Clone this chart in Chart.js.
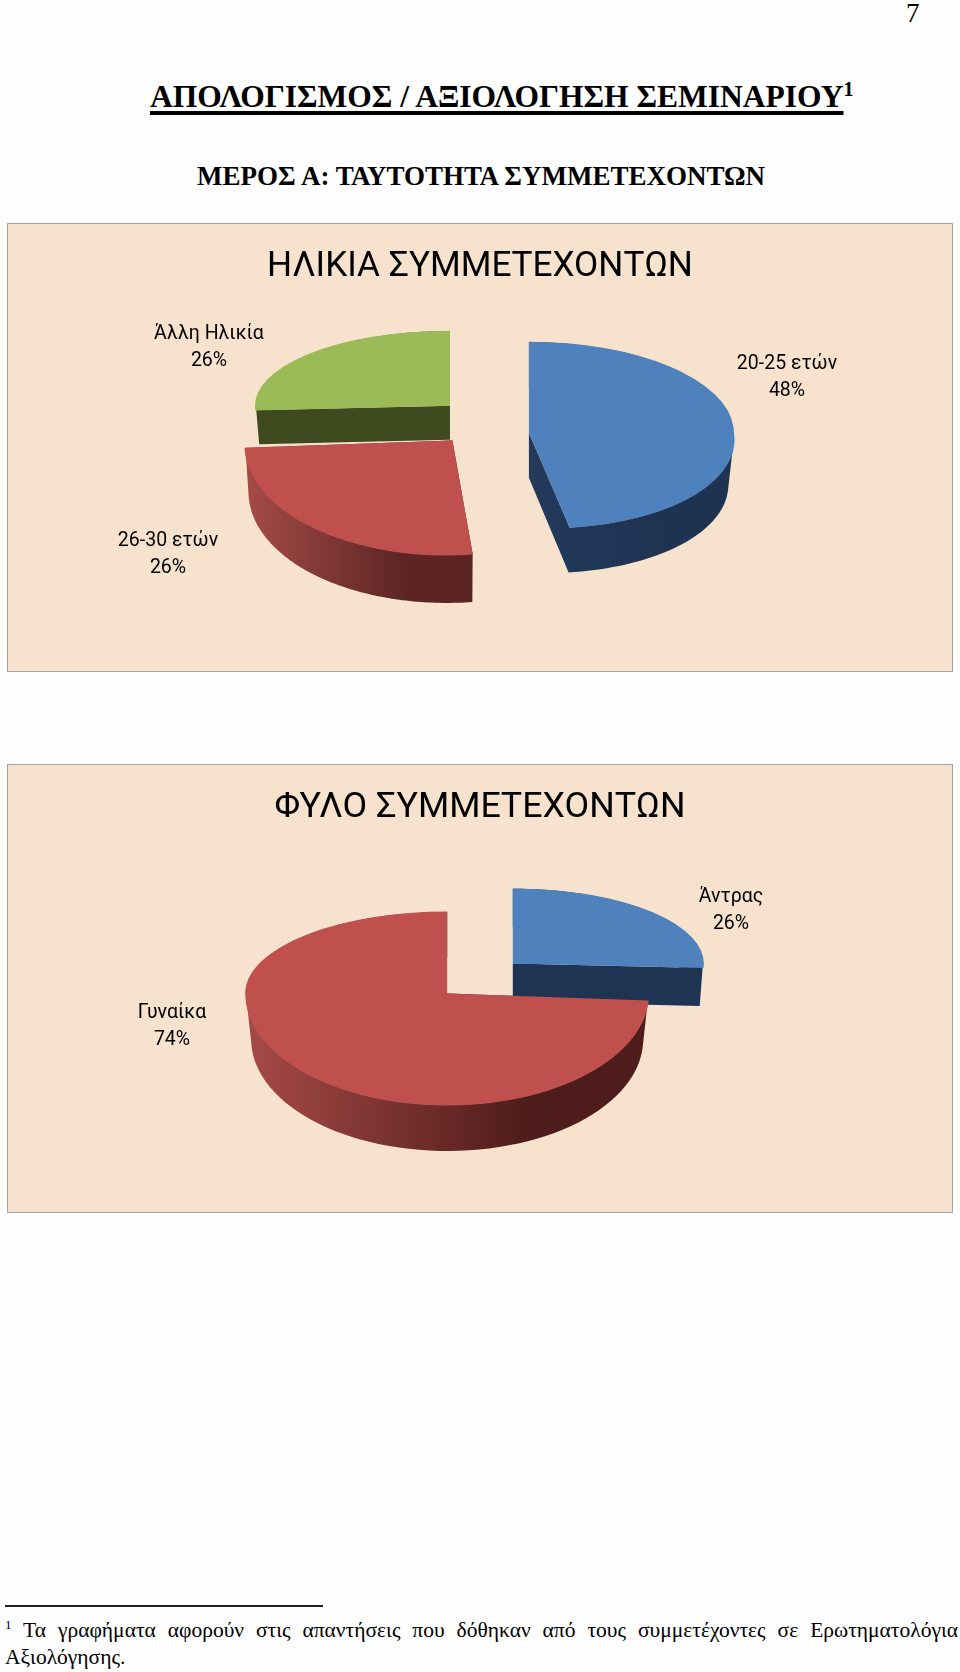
<!DOCTYPE html>
<html lang="el">
<head>
<meta charset="utf-8">
<title>Απολογισμός</title>
<script src="https://cdn.jsdelivr.net/npm/chart.js@4"></script>
<style>
    html, body { margin: 0; padding: 0; background: #fefefe; }
    body { position: relative; width: 960px; height: 1672px; overflow: hidden; font-family: "Liberation Serif", serif; color: #000; }
    .abs { position: absolute; white-space: nowrap; }
    #pageNo { left: 906px; top: -2px; font-size: 27px; }
    #heading { left: 150px; top: 79px; font-size: 31.5px; font-weight: bold; }
    #heading span { text-decoration: underline; text-decoration-thickness: 3.5px; text-underline-offset: 4px; }
    #heading sup { font-size: 20px; line-height: 0; }
    #subheading { left: 197px; top: 161px; font-size: 27px; font-weight: bold; }
    .box { position: absolute; left: 7px; width: 944px; height: 447px; border: 1.5px solid #a5a3a0; background: #f7e3cd; }
    .box canvas { display: block; }
    #rule { position: absolute; left: 5px; top: 1605px; width: 318px; height: 2px; background: #222; }
    #note1 { position: absolute; left: 5px; width: 953px; top: 1618px; font-size: 21.5px; text-align: justify; text-align-last: justify; white-space: nowrap; }
    #note1 sup { font-size: 13px; line-height: 0; }
    #note2 { left: 5px; top: 1645px; font-size: 21.5px; }
</style>
</head>
<body>
<div class="abs" id="pageNo">7</div>
<div class="abs" id="heading"><span>ΑΠΟΛΟΓΙΣΜΟΣ / ΑΞΙΟΛΟΓΗΣΗ ΣΕΜΙΝΑΡΙΟΥ</span><sup>1</sup></div>
<div class="abs" id="subheading">ΜΕΡΟΣ Α: ΤΑΥΤΟΤΗΤΑ ΣΥΜΜΕΤΕΧΟΝΤΩΝ</div>
<div class="box" style="top:223px"><canvas id="ageChart" width="944" height="447"></canvas></div>
<div class="box" style="top:764px"><canvas id="genderChart" width="944" height="447"></canvas></div>
<div id="rule"></div>
<div id="note1"><sup>1</sup> Τα γραφήματα αφορούν στις απαντήσεις που δόθηκαν από τους συμμετέχοντες σε Ερωτηματολόγια</div>
<div class="abs" id="note2">Αξιολόγησης.</div>

<script>
const ageTitle = 'ΗΛΙΚΙΑ ΣΥΜΜΕΤΕΧΟΝΤΩΝ';
const ageLabels = ['20-25 ετών', '26-30 ετών', 'Άλλη Ηλικία'];
const ageValues = [48, 26, 26];

const genderTitle = 'ΦΥΛΟ ΣΥΜΜΕΤΕΧΟΝΤΩΝ';
const genderLabels = ['Άντρας', 'Γυναίκα'];
const genderValues = [26, 74];

const BLUE = '#4f81bd';
const RED = '#bf504d';
const GREEN = '#9bbb59';
const LABEL_FONT = '19.5px Roboto';
const PIE_RADIUS = 200;

// fake perspective: each slice gets its own squash, above and below its tip
const agePie = {
    explode: 48, squash: 0.47, padBottom: 109, titleSize: 35.2,
    colors: [BLUE, RED, GREEN],
    views: [
        { sx: 1.025, up: 0.455, down: 0.48, skew: 0.16, shrink: 0.975, dx: 1, dy: 5, depth: 45, wall: ['#233a5c', '#1e3251'] },
        { sx: 1.04, up: 0.5, down: 0.575, skew: -0.05, shrink: 0.985, dx: 3, dy: -6, depth: 48, wall: ['#a64b48', '#5c2523'] },
        { sx: 0.975, up: 0.375, down: 0.375, skew: 0, shrink: 0.985, dx: 5, dy: -8, depth: 34, wall: ['#3f4a1f', '#3f4a1f'] }
    ],
    drawOrder: [2, 1, 0],
    labelBoxes: [[779, 154], [160, 331], [201, 124]]
};
const genderPie = {
    explode: 45, squash: 0.49, padBottom: 93, titleSize: 35.8,
    colors: [BLUE, RED],
    views: [
        { sx: 0.955, up: 0.375, down: 0.375, skew: 0, shrink: 0.985, dx: 0, dy: 0, depth: 38, wall: ['#1f3353', '#1f3353'] },
        { sx: 1.01, up: 0.41, down: 0.56, skew: 0, shrink: 0.975, dx: 0, dy: 0, depth: 46, wall: ['#a64a47', '#4e1c1a'] }
    ],
    drawOrder: [0, 1],
    labelBoxes: [[723, 146], [164, 262]]
};

function sliceGeometry(arc, view, cfg) {
    const mid = (arc.startAngle + arc.endAngle) / 2;
    const tipX = arc.x + Math.cos(mid) * cfg.explode + view.dx;
    const tipY = arc.y + Math.sin(mid) * cfg.explode * cfg.squash + view.dy;
    const rimPoint = (angle, r) => {
        const s = Math.sin(angle);
        const drop = s * r * (s < 0 ? view.up : view.down);
        return [tipX + Math.cos(angle) * r * view.sx + (s > 0 ? view.skew * drop : 0), tipY + drop];
    };
    return { tipX, tipY, rimPoint };
}

function drawWall(ctx, arc, view, geo) {
    const top = [[geo.tipX, geo.tipY]];
    for (let i = 0; i <= 90; i++) {
        top.push(geo.rimPoint(arc.startAngle + (arc.endAngle - arc.startAngle) * i / 90, arc.outerRadius - 1));
    }
    top.push([geo.tipX, geo.tipY]);
    const xs = top.map(p => p[0]);
    const grad = ctx.createLinearGradient(Math.min(...xs), 0, Math.max(...xs), 0);
    grad.addColorStop(0, view.wall[0]);
    grad.addColorStop(0.7, view.wall[1]);
    grad.addColorStop(1, view.wall[1]);
    ctx.fillStyle = grad;
    const lower = p => [geo.tipX + (p[0] - geo.tipX) * view.shrink, p[1] + view.depth];
    // one path with every quad wound the same way, so no seams show in the fill
    ctx.beginPath();
    for (let i = 0; i < top.length - 1; i++) {
        let quad = [top[i], top[i + 1], lower(top[i + 1]), lower(top[i])];
        let area = 0;
        quad.forEach((p, j) => {
            const q = quad[(j + 1) % 4];
            area += p[0] * q[1] - q[0] * p[1];
        });
        if (area < 0) quad = quad.reverse();
        ctx.moveTo(quad[0][0], quad[0][1]);
        quad.slice(1).forEach(p => ctx.lineTo(p[0], p[1]));
        ctx.closePath();
    }
    ctx.fill('nonzero');
}

function drawFace(ctx, arc, view, geo, chart) {
    // the library's own arc, squashed; drawn twice so the far and near halves can differ
    [[view.up, 0, -1], [view.down, view.skew, 1]].forEach(([k, skew, side]) => {
        ctx.save();
        ctx.beginPath();
        if (side < 0) ctx.rect(0, 0, chart.width, geo.tipY + 0.5);
        else ctx.rect(0, geo.tipY - 0.5, chart.width, chart.height);
        ctx.clip();
        ctx.translate(geo.tipX, geo.tipY);
        ctx.transform(1, 0, skew, 1, 0, 0);
        ctx.scale(view.sx, k);
        ctx.translate(-arc.x, -arc.y);
        arc.draw(ctx);
        ctx.restore();
    });
}

const pie3d = {
    id: 'pie3d',
    beforeDatasetDraw(chart, args, opts) {
        const cfg = opts.cfg;
        const ctx = chart.ctx;
        const arcs = chart.getDatasetMeta(0).data;
        cfg.drawOrder.forEach(i => {
            const geo = sliceGeometry(arcs[i], cfg.views[i], cfg);
            drawWall(ctx, arcs[i], cfg.views[i], geo);
            drawFace(ctx, arcs[i], cfg.views[i], geo, chart);
        });
        return false;
    },
    afterDraw(chart, args, opts) {
        const ctx = chart.ctx;
        const labels = chart.data.labels;
        const values = chart.data.datasets[0].data;
        ctx.save();
        ctx.font = LABEL_FONT;
        ctx.fillStyle = '#000';
        ctx.textAlign = 'center';
        ctx.textBaseline = 'middle';
        labels.forEach((label, i) => {
            const [x, y] = opts.cfg.labelBoxes[i];
            ctx.fillText(label, x, y - 13.5);
            ctx.fillText(values[i] + '%', x, y + 13.5);
        });
        ctx.restore();
    }
};

function makePie(id, title, labels, values, cfg) {
    return new Chart(document.getElementById(id), {
        type: 'pie',
        plugins: [pie3d],
        data: {
            labels: labels,
            datasets: [{
                data: values,
                backgroundColor: cfg.colors,
                borderWidth: 0
            }]
        },
        options: {
            responsive: false,
            animation: false,
            radius: PIE_RADIUS,
            layout: { padding: { bottom: cfg.padBottom } },
            plugins: {
                legend: { display: false },
                tooltip: { enabled: false },
                title: {
                    display: true,
                    text: title,
                    color: '#000',
                    font: { family: 'Roboto', size: cfg.titleSize, weight: 'normal' },
                    padding: { top: 22, bottom: 8 }
                },
                pie3d: { cfg: cfg }
            }
        }
    });
}

makePie('ageChart', ageTitle, ageLabels, ageValues, agePie);
makePie('genderChart', genderTitle, genderLabels, genderValues, genderPie);
</script>
</body>
</html>
